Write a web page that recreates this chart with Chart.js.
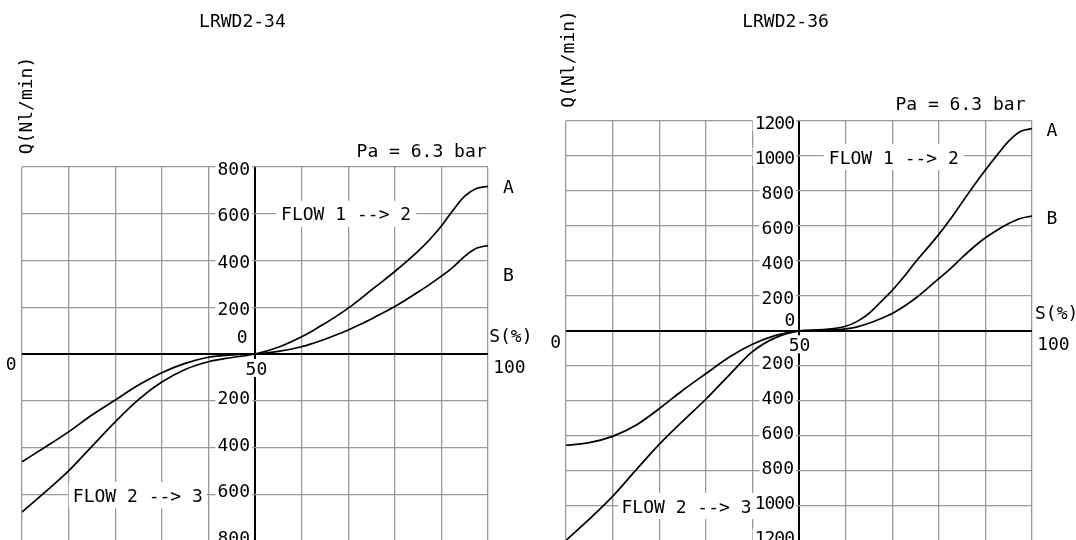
<!DOCTYPE html>
<html>
<head>
<meta charset="utf-8">
<title>LRWD2 flow curves</title>
<script src="https://cdn.jsdelivr.net/npm/chart.js@4.4.1/dist/chart.umd.min.js"></script>
<style>
  html, body { margin: 0; padding: 0; width: 1076px; height: 540px; overflow: hidden; background: #fff; }
  .panel { position: absolute; top: 0; width: 538px; height: 560px; }
  #panel34 { left: 0; }
  #panel36 { left: 538px; }
</style>
</head>
<body>
<div class="panel" id="panel34"><canvas id="chart34" width="538" height="560"></canvas></div>
<div class="panel" id="panel36"><canvas id="chart36" width="538" height="560"></canvas></div>

<script>
const sValues = [0, 5, 10, 15, 20, 25, 30, 35, 40, 45, 50, 55, 60, 62.5, 65, 67.5, 70, 72.5, 75, 77.5, 80, 82.5, 85, 87.5, 90, 92.5, 95, 97.5, 100];

// LRWD2-34, flow Q (Nl/min)
const flowA34 = [-676, -590, -500, -395, -290, -195, -120, -66, -33, -15, 0, 29, 74, 101, 131, 162, 196, 234, 274, 313, 353, 395, 440, 490, 548, 615, 675, 708, 717];
const flowB34 = [-461, -398, -333, -261, -197, -133, -80, -40, -14, -4, 0, 11, 31, 46, 63, 82, 103, 126, 150, 176, 203, 233, 265, 298, 333, 372, 418, 452, 464];

// LRWD2-36, flow Q (Nl/min)
const flowA36 = [-1196, -1075, -945, -795, -648, -517, -390, -252, -118, -38, 0, 8, 27, 55, 100, 165, 232, 310, 394, 472, 552, 640, 735, 830, 920, 1005, 1085, 1140, 1156];
const flowB36 = [-653, -638, -602, -539, -444, -340, -244, -150, -76, -25, 0, 4, 12, 24, 44, 70, 100, 140, 187, 242, 299, 357, 420, 480, 533, 576, 614, 643, 657];

// grid / tick values
const sGrid = [0, 10, 20, 30, 40, 50, 60, 70, 80, 90, 100];
const yTicks34 = [800, 600, 400, 200, 0, -200, -400, -600, -800];
const yTicks36 = [1200, 1000, 800, 600, 400, 200, 0, -200, -400, -600, -800, -1000, -1200];

const fontFamily = '"DejaVu Sans Mono", monospace';
const fontSize = 18;
const capShift = 6.6; // half cap height, to centre text on a y
const gridColor = '#999';

function drawText(ctx, text, x, y, align, box) {
  ctx.textAlign = align || 'center';
  const w = ctx.measureText(text).width;
  if (box) {
    let left = x - w / 2;
    if (align === 'right') left = x - w;
    if (align === 'left') left = x;
    ctx.fillStyle = '#fff';
    ctx.fillRect(left - box[0], y - box[1], w + box[0] * 2, box[1] * 2);
  }
  ctx.fillStyle = '#000';
  ctx.fillText(text, x, y + capShift);
}

// axis numbers, captions and the rotated Q label
const diagramText = {
  id: 'diagramText',
  beforeDatasetsDraw(chart, args, opts) {
    const { ctx } = chart;
    const x = chart.scales.x;
    const y = chart.scales.y;
    const axisX = x.getPixelForValue(50);

    ctx.save();
    ctx.font = fontSize + 'px ' + fontFamily;
    ctx.textBaseline = 'alphabetic';

    opts.notes.forEach(n => {
      drawText(ctx, n.text, x.getPixelForValue(n.s), y.getPixelForValue(n.q), n.align, n.box);
    });

    // numbers along the centre axis, shown without sign
    opts.ticks.forEach(v => {
      if (v === 0) return;
      const label = String(Math.abs(v));
      ctx.letterSpacing = label.length > 3 ? '-1px' : '0px';
      const py = y.getPixelForValue(v) + (v > 0 ? 1 : -3.5);
      drawText(ctx, label, axisX - 5, py, 'right', [2, 9]);
    });
    ctx.letterSpacing = '0px';

    const q = opts.qLabel;
    ctx.translate(x.getPixelForValue(q.s), y.getPixelForValue(q.q));
    ctx.rotate(-Math.PI / 2);
    drawText(ctx, q.text, 0, 0, 'center');
    ctx.restore();
  }
};

function makeChart(canvasId, flowA, flowB, yTicks, padding, notes, qLabel) {
  const yMax = yTicks[0];
  return new Chart(document.getElementById(canvasId), {
    type: 'line',
    data: {
      datasets: [
        { label: 'A', data: sValues.map((s, i) => ({ x: s, y: flowA[i] })) },
        { label: 'B', data: sValues.map((s, i) => ({ x: s, y: flowB[i] })) }
      ]
    },
    options: {
      responsive: false,
      animation: false,
      events: [],
      layout: { padding: padding },
      elements: {
        line: { borderColor: '#000', borderWidth: 1.7, cubicInterpolationMode: 'monotone', fill: false },
        point: { radius: 0 }
      },
      scales: {
        x: {
          type: 'linear',
          min: 0,
          max: 100,
          afterBuildTicks: axis => { axis.ticks = sGrid.map(value => ({ value })); },
          ticks: { display: false },
          border: { display: false },
          grid: {
            drawTicks: false,
            color: c => (c.tick && c.tick.value === 50 ? '#000' : gridColor),
            lineWidth: c => (c.tick && c.tick.value === 50 ? 2 : 1.3)
          }
        },
        y: {
          type: 'linear',
          min: -yMax,
          max: yMax,
          afterBuildTicks: axis => { axis.ticks = yTicks.map(value => ({ value })); },
          ticks: { display: false },
          border: { display: false },
          grid: {
            drawTicks: false,
            color: c => (c.tick && c.tick.value === 0 ? '#000' : gridColor),
            lineWidth: c => (c.tick && c.tick.value === 0 ? 2 : 1.3)
          }
        }
      },
      plugins: {
        legend: { display: false },
        tooltip: { enabled: false },
        diagramText: { ticks: yTicks, notes: notes, qLabel: qLabel }
      }
    },
    plugins: [diagramText]
  });
}

makeChart('chart34', flowA34, flowB34, yTicks34,
  { left: 22, right: 50, top: 167, bottom: 19 },
  [
    { text: 'LRWD2-34', s: 47.3, q: 1427 },
    { text: 'Pa = 6.3 bar', s: 99.7, q: 870, align: 'right' },
    { text: 'A', s: 104.4, q: 717 },
    { text: 'B', s: 104.4, q: 339 },
    { text: 'S(%)', s: 104.9, q: 81 },
    { text: '100', s: 104.6, q: -54 },
    { text: '0', s: -2.3, q: -40 },
    { text: '0', s: 48.4, q: 77, align: 'right' },
    { text: '50', s: 50.3, q: -60, box: [1, 9] },
    { text: 'FLOW 1 --> 2', s: 55.6, q: 600, align: 'left', box: [5, 13] },
    { text: 'FLOW 2 --> 3', s: 10.9, q: -604, align: 'left', box: [4, 13] }
  ],
  { text: 'Q(Nl/min)', s: 0.8, q: 1063 });

makeChart('chart36', flowA36, flowB36, yTicks36,
  { left: 28, right: 44, top: 121, bottom: 19 },
  [
    { text: 'LRWD2-36', s: 47.1, q: 1776 },
    { text: 'Pa = 6.3 bar', s: 98.6, q: 1303, align: 'right' },
    { text: 'A', s: 104.3, q: 1151 },
    { text: 'B', s: 104.3, q: 651 },
    { text: 'S(%)', s: 105.3, q: 109 },
    { text: '100', s: 104.6, q: -70 },
    { text: '0', s: -2.2, q: -57 },
    { text: '0', s: 49.2, q: 66, align: 'right' },
    { text: '50', s: 50.1, q: -76, box: [1, 9] },
    { text: 'FLOW 1 --> 2', s: 56.4, q: 994, align: 'left', box: [5, 13] },
    { text: 'FLOW 2 --> 3', s: 11.9, q: -1000, align: 'left', box: [3, 13] }
  ],
  { text: 'Q(Nl/min)', s: 0.3, q: 1555 });
</script>
</body>
</html>
